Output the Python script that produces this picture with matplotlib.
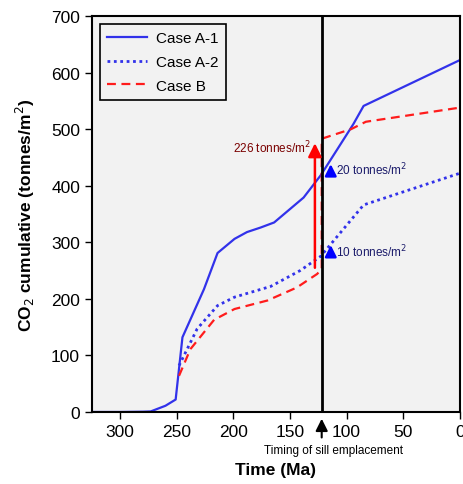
import matplotlib.pyplot as plt
import numpy as np

plt.rcParams["font.family"] = ["Liberation Sans", "DejaVu Sans"]

# 数据：时间 (Ma) 与累计 CO2 (tonnes/m2)
time_a1 = [325, 300, 280, 273, 260, 251, 245, 226, 214, 199, 188, 176, 164, 138, 123, 108, 94, 85, 0]
co2_a1 = [0, 0, 0.5, 1, 11, 22, 132, 217, 281, 306, 318, 326, 335, 379, 418, 465, 509, 541, 622]

time_a2 = [248, 232, 214, 199, 167, 141, 123, 85, 0]
co2_a2 = [82, 147, 188, 203, 222, 250, 275, 366, 422]

time_b = [248, 238, 217, 199, 170, 144, 126, 122, 122, 96, 83, 0]
co2_b = [64, 111, 163, 182, 197, 220, 244, 253, 483, 500, 513, 538]

sill_time = 122
jump_b = (128, 250, 480)
jump_a1 = (114, 418, 443)
jump_a2 = (114, 274, 300)

blue = "#3232ea"
red = "#ff1c1c"

fig = plt.figure(figsize=(4.64, 4.85), dpi=100)
ax = fig.add_axes([0.198, 0.1485, 0.793, 0.8165])
ax.set_facecolor("#f2f2f2")

ax.plot(time_a1, co2_a1, color=blue, lw=1.6, label="Case A-1")
ax.plot(time_a2, co2_a2, color=blue, lw=2.0, linestyle=(0, (1, 1.3)), label="Case A-2")
ax.plot(time_b, co2_b, color=red, lw=1.6, linestyle=(0, (4, 2.5)), label="Case B")

ax.axvline(sill_time, color="black", lw=2)

# 侵入时刻的增量箭头
ax.annotate("", xy=(jump_b[0], jump_b[2]), xytext=(jump_b[0], jump_b[1]),
            arrowprops=dict(arrowstyle="-|>", color="red", lw=1.8, mutation_scale=20))
ax.text(jump_b[0] + 4, 468, "226 tonnes/m$^2$", color="#7a0000", fontsize=8.5,
        ha="right", va="center")
for x, y0, y1 in (jump_a1, jump_a2):
    ax.annotate("", xy=(x, y1), xytext=(x, y0),
                arrowprops=dict(arrowstyle="-|>", color="blue", lw=1.8, mutation_scale=17))
ax.text(jump_a1[0] - 5, 430, "20 tonnes/m$^2$", color="#1c1c6b", fontsize=8.5, va="center")
ax.text(jump_a2[0] - 5, 284, "10 tonnes/m$^2$", color="#1c1c6b", fontsize=8.5, va="center")

# 横轴下方的侵入时间标记
ax.annotate("", xy=(sill_time, -7), xytext=(sill_time, -50), annotation_clip=False,
            arrowprops=dict(arrowstyle="-|>", color="black", lw=1.5, mutation_scale=18))
ax.text(sill_time - 10, -68, "Timing of sill emplacement", fontsize=8.5, ha="center", va="center")

ax.set_xlim(325, 0)
ax.set_ylim(0, 700)
ax.set_xticks([300, 250, 200, 150, 100, 50, 0])
ax.set_yticks(np.arange(0, 701, 100))
ax.tick_params(labelsize=12.5, length=5, width=1, direction="out")
for spine in ax.spines.values():
    spine.set_linewidth(1.5)

ax.set_xlabel("Time (Ma)", fontsize=12.5, fontweight="bold", labelpad=17)
ax.set_ylabel("CO$_2$ cumulative (tonnes/m$^2$)", fontsize=12.5, fontweight="bold", labelpad=10)

leg = ax.legend(loc="upper left", fontsize=11, frameon=True, fancybox=False,
                facecolor="#f2f2f2", edgecolor="black", handlelength=2.6,
                handletextpad=0.6, borderaxespad=0.5, labelspacing=0.63,
                borderpad=0.5)
leg.get_frame().set_linewidth(1.2)
leg.get_frame().set_alpha(1)

fig.savefig("out.png", dpi=100)
